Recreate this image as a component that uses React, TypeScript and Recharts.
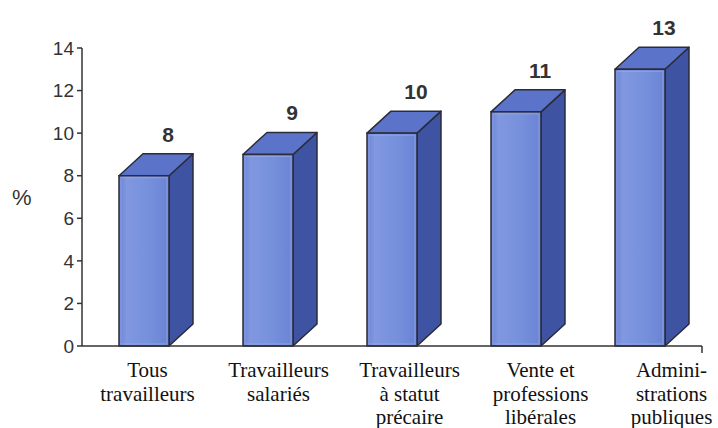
import { BarChart, Bar, XAxis, YAxis, LabelList } from 'recharts';

const categories = [
  'Tous travailleurs',
  'Travailleurs salariés',
  'Travailleurs à statut précaire',
  'Vente et professions libérales',
  'Administrations publiques',
];
const categoryLines = [
  ['Tous', 'travailleurs'],
  ['Travailleurs', 'salariés'],
  ['Travailleurs', 'à statut', 'précaire'],
  ['Vente et', 'professions', 'libérales'],
  ['Admini-', 'strations', 'publiques'],
];
const values = [8, 9, 10, 11, 13];
const yTicks = [0, 2, 4, 6, 8, 10, 12, 14];

const data = categories.map((name, i) => ({ name, value: values[i] }));

// depth of the 3d boxes
const DX = 24;
const DY = 22;
const OUTLINE = '#2b2b3a';

function Box3D(props: any) {
  const { x, y, width: w, height: h } = props;
  if (h == null || w == null) return null;
  const top = `${x},${y} ${x + DX},${y - DY} ${x + w + DX},${y - DY} ${x + w},${y}`;
  const side = `${x + w},${y} ${x + w + DX},${y - DY} ${x + w + DX},${y + h - DY} ${x + w},${y + h}`;
  return (
    <g>
      <defs>
        <linearGradient id="frontGrad" x1="0" y1="0" x2="1" y2="0">
          <stop offset="0%" stopColor="#6a82d4" />
          <stop offset="15%" stopColor="#8198e0" />
          <stop offset="60%" stopColor="#7690dc" />
          <stop offset="100%" stopColor="#6a83d4" />
        </linearGradient>
      </defs>
      <polygon points={side} fill="#3e53a2" stroke={OUTLINE} strokeWidth={1.5} strokeLinejoin="round" />
      <polygon points={top} fill="#5b74c9" stroke={OUTLINE} strokeWidth={1.5} strokeLinejoin="round" />
      <rect x={x} y={y} width={w} height={h} fill="url(#frontGrad)" stroke={OUTLINE} strokeWidth={1.5} />
      <rect x={x + 2} y={y + 2} width={w - 4} height={h - 4} fill="none" stroke="#9fb0ea" strokeWidth={1} opacity={0.6} />
    </g>
  );
}

function ValueLabel(props: any) {
  const { x, y, width, value } = props;
  return (
    <text
      x={x + width / 2 + DX}
      y={y - DY - 12}
      textAnchor="middle"
      fontFamily="'Liberation Sans', Arial, sans-serif"
      fontWeight="bold"
      fontSize={21}
      fill="#333"
    >
      {value}
    </text>
  );
}

function AxisEnd(props: any) {
  const { x, y, index, payload } = props;
  if (index !== categories.length - 1) return <g />;
  const ex = x + (payload.offset || 0);
  return <line x1={ex} x2={ex} y1={y} y2={y + 7} stroke="#333" strokeWidth={1.5} />;
}

function CategoryTick(props: any) {
  const { x, y, index } = props;
  const lines = categoryLines[index] || [];
  return (
    <text
      x={x}
      y={y}
      textAnchor="middle"
      fontFamily="'Liberation Serif', 'Times New Roman', serif"
      fontSize={21}
      fill="#111"
    >
      {lines.map((l, i) => (
        <tspan key={i} x={x} dy={i === 0 ? 23 : 23.5}>
          {l}
        </tspan>
      ))}
    </text>
  );
}

export default function App() {
  return (
    <div style={{ position: 'absolute', left: 0, top: 0, width: 718, height: 428, background: '#fff' }}>
      <BarChart
        width={718}
        height={428}
        data={data}
        margin={{ top: 48, right: 16, bottom: 0, left: 0 }}
      >
        <YAxis
          domain={[0, 14]}
          ticks={yTicks}
          interval={0}
          width={82}
          tickSize={5}
          tickMargin={3}
          tick={{ fill: '#333', fontSize: 19, fontFamily: "'Liberation Sans', Arial, sans-serif" }}
          tickLine={{ stroke: '#333', strokeWidth: 1.5 }}
          axisLine={{ stroke: '#333', strokeWidth: 1.5 }}
          label={{
            value: '%',
            position: 'insideLeft',
            offset: 12,
            style: { fill: '#333', fontSize: 22, fontFamily: "'Liberation Sans', Arial, sans-serif" },
          }}
        />
        <XAxis
          dataKey="name"
          interval={0}
          height={8}
          tickSize={0}
          tickMargin={0}
          tickLine={false}
          tick={<AxisEnd />}
          axisLine={{ stroke: '#333', strokeWidth: 1.5 }}
        />
        <XAxis
          xAxisId="labels"
          dataKey="name"
          interval={0}
          height={74}
          padding={{ left: 0, right: -35 }}
          tickSize={0}
          tickMargin={0}
          tickLine={false}
          axisLine={false}
          tick={<CategoryTick />}
        />
        <Bar dataKey="value" barSize={50} shape={<Box3D />} isAnimationActive={false}>
          <LabelList dataKey="value" content={<ValueLabel />} />
        </Bar>
      </BarChart>
    </div>
  );
}
